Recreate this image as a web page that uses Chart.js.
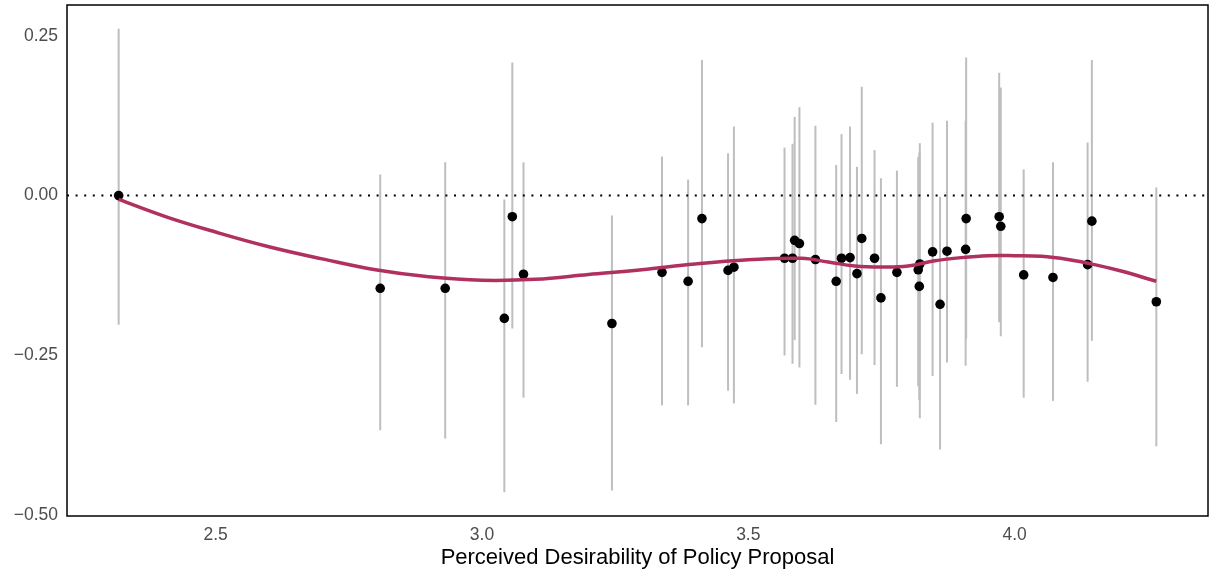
<!DOCTYPE html>
<html>
<head>
<meta charset="utf-8">
<script src="https://cdn.jsdelivr.net/npm/chart.js@4/dist/chart.umd.min.js"></script>
<style>
  html, body { margin: 0; padding: 0; background: #ffffff; }
  #wrap { width: 1209px; height: 571px; position: relative; }
</style>
</head>
<body>
<div id="wrap"><canvas id="effectChart"></canvas></div>
<script>
// estimates per proposal: desirability (x), effect (y), and 95% interval
const desirability = [
  2.318, 2.809, 2.931, 3.042, 3.057, 3.078, 3.244, 3.338, 3.387, 3.413,
  3.462, 3.473, 3.568, 3.583, 3.587, 3.596, 3.626, 3.665, 3.675, 3.691,
  3.704, 3.713, 3.737, 3.749, 3.779, 3.819, 3.822, 3.821, 3.846, 3.860,
  3.873, 3.908, 3.909, 3.971, 3.974, 4.017, 4.072, 4.137, 4.145, 4.266
];
const effect = [
  0.000, -0.145, -0.145, -0.192, -0.033, -0.123, -0.200, -0.120, -0.134, -0.036,
  -0.117, -0.112, -0.098, -0.098, -0.070, -0.075, -0.100, -0.134, -0.098, -0.097,
  -0.122, -0.067, -0.098, -0.160, -0.120, -0.116, -0.107, -0.142, -0.088, -0.170,
  -0.087, -0.084, -0.036, -0.033, -0.048, -0.124, -0.128, -0.108, -0.040, -0.166
];
const ciLow = [
  -0.202, -0.367, -0.380, -0.464, -0.208, -0.316, -0.461, -0.328, -0.328, -0.237,
  -0.305, -0.325, -0.250, -0.263, -0.226, -0.269, -0.327, -0.354, -0.279, -0.288,
  -0.310, -0.248, -0.265, -0.389, -0.299, -0.298, -0.348, -0.320, -0.282, -0.397,
  -0.261, -0.266, -0.224, -0.198, -0.220, -0.316, -0.321, -0.291, -0.227, -0.392
];
const ciHigh = [
  0.261, 0.033, 0.052, -0.006, 0.208, 0.052, -0.031, 0.061, 0.025, 0.212,
  0.066, 0.108, 0.075, 0.081, 0.123, 0.138, 0.109, 0.048, 0.096, 0.108,
  0.045, 0.170, 0.071, 0.027, 0.039, 0.060, 0.082, 0.067, 0.114, -0.002,
  0.117, 0.117, 0.216, 0.192, 0.169, 0.041, 0.052, 0.083, 0.212, 0.0125
];

// smoothed trend
const smoothX = [
  2.318, 2.41, 2.5, 2.6, 2.7, 2.8, 2.9, 3.0, 3.1, 3.2,
  3.3, 3.4, 3.5, 3.6, 3.65, 3.7, 3.75, 3.8, 3.85, 3.9,
  3.95, 4.0, 4.05, 4.1, 4.15, 4.2, 4.266
];
const smoothY = [
  -0.006, -0.034, -0.057, -0.080, -0.099, -0.116, -0.127, -0.1325, -0.131, -0.1235,
  -0.116, -0.107, -0.1005, -0.098, -0.104, -0.110, -0.1115, -0.110, -0.102, -0.097,
  -0.094, -0.094, -0.095, -0.100, -0.108, -0.118, -0.134
];

const xTicks = [2.5, 3.0, 3.5, 4.0];
const yTicks = [0.25, 0.0, -0.25, -0.5];

const X_MIN = 2.221, X_MAX = 4.363;
const Y_MIN = -0.501, Y_MAX = 0.298;

function fmt(v, d) {
  const s = Math.abs(v).toFixed(d);
  return v < -1e-9 ? "\u2212" + s : s;
}

// grey interval bars under everything else
const errorBars = {
  id: "errorBars",
  beforeDatasetsDraw(chart) {
    const { ctx, scales } = chart;
    ctx.save();
    ctx.strokeStyle = "#BEBEBE";
    ctx.lineWidth = 2;
    for (let i = 0; i < desirability.length; i++) {
      const px = scales.x.getPixelForValue(desirability[i]);
      ctx.beginPath();
      ctx.moveTo(px, scales.y.getPixelForValue(ciLow[i]));
      ctx.lineTo(px, scales.y.getPixelForValue(ciHigh[i]));
      ctx.stroke();
    }
    ctx.restore();
  },
};

// black frame round the panel
const panelBorder = {
  id: "panelBorder",
  afterDraw(chart) {
    const { ctx, chartArea: a } = chart;
    ctx.save();
    ctx.strokeStyle = "#000000";
    ctx.lineWidth = 1.5;
    ctx.strokeRect(a.left, a.top, a.right - a.left, a.bottom - a.top);
    ctx.restore();
  },
};

function initializeChart() {
  const ctx = document.getElementById("effectChart").getContext("2d");
  new Chart(ctx, {
    type: "scatter",
    data: {
      datasets: [
        {
          label: "smooth",
          type: "line",
          data: smoothX.map((x, i) => ({ x: x, y: smoothY[i] })),
          borderColor: "#B03060",
          borderWidth: 3.5,
          pointRadius: 0,
          fill: false,
          tension: 0.4,
          order: 0,
        },
        {
          label: "estimates",
          data: desirability.map((x, i) => ({ x: x, y: effect[i] })),
          backgroundColor: "#000000",
          borderColor: "#000000",
          pointRadius: 4.8,
          pointBorderWidth: 0,
          order: 1,
        },
        {
          label: "zero",
          type: "line",
          data: [{ x: X_MIN, y: 0 }, { x: X_MAX, y: 0 }],
          borderColor: "#000000",
          borderWidth: 2,
          borderDash: [2, 6.6],
          pointRadius: 0,
          order: 2,
        },
      ],
    },
    options: {
      responsive: true,
      maintainAspectRatio: false,
      animation: false,
      layout: { autoPadding: false, padding: { top: 5, right: 1, left: 0, bottom: 0 } },
      plugins: {
        legend: { display: false },
        tooltip: { enabled: false },
      },
      scales: {
        x: {
          type: "linear",
          min: X_MIN,
          max: X_MAX,
          afterBuildTicks: (axis) => {
            axis.ticks = xTicks.map((v) => ({ value: v }));
          },
          afterFit: (axis) => {
            axis.height = 55;
            axis.paddingLeft = 0;
            axis.paddingRight = 0;
          },
          grid: { display: false, drawTicks: false },
          border: { display: false },
          ticks: {
            padding: 9,
            color: "#4D4D4D",
            font: { family: "Liberation Sans, Arial, sans-serif", size: 17.5 },
            callback: (v) => fmt(v, 1),
          },
          title: {
            display: true,
            text: "Perceived Desirability of Policy Proposal",
            color: "#000000",
            font: { family: "Liberation Sans, Arial, sans-serif", size: 22 },
            padding: { top: 0, bottom: 0 },
          },
        },
        y: {
          type: "linear",
          min: Y_MIN,
          max: Y_MAX,
          afterBuildTicks: (axis) => {
            axis.ticks = yTicks.map((v) => ({ value: v }));
          },
          afterFit: (axis) => {
            axis.width = 67;
            axis.paddingTop = 0;
            axis.paddingBottom = 0;
          },
          grid: { display: false, drawTicks: false },
          border: { display: false },
          ticks: {
            padding: 9,
            color: "#4D4D4D",
            font: { family: "Liberation Sans, Arial, sans-serif", size: 17.5 },
            callback: (v) => fmt(v, 2),
          },
        },
      },
    },
    plugins: [errorBars, panelBorder],
  });
}

if (document.readyState === "loading") {
  document.addEventListener("DOMContentLoaded", initializeChart);
} else {
  initializeChart();
}
</script>
</body>
</html>
